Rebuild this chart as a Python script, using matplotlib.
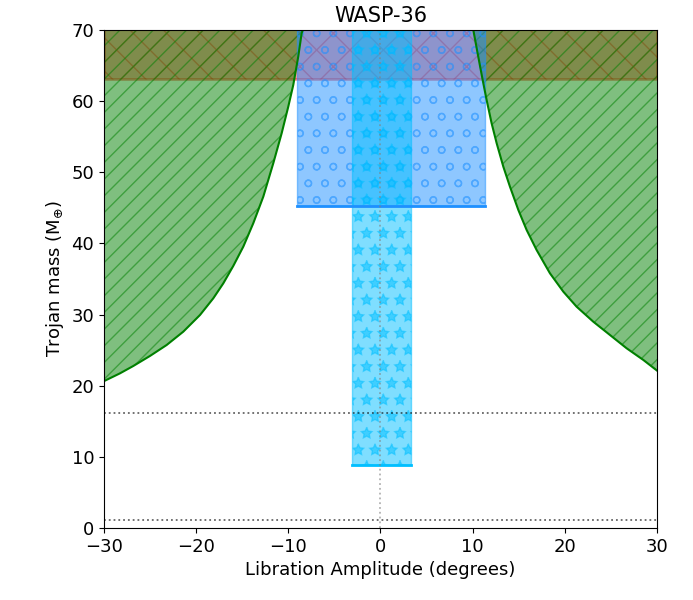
import numpy as np
import matplotlib
matplotlib.use("Agg")
import matplotlib.pyplot as plt

plt.rcParams['font.family'] = ['DejaVu Sans']
plt.rcParams['hatch.linewidth'] = 1.0

# stability limit (left and right branches)
left_x = [-29.89, -28.26, -26.82, -25.01, -23.20, -21.39, -19.58, -18.14, -17.05, -15.97,
          -14.88, -13.80, -12.71, -11.63, -10.72, -10.00, -9.46, -8.92, -8.55, -8.30]
left_y = [20.71, 21.74, 22.77, 24.18, 25.72, 27.60, 29.94, 32.28, 34.39, 36.83,
          39.55, 42.83, 46.58, 51.26, 55.48, 59.23, 62.27, 66.26, 69.54, 70.47]
right_x = [9.89, 10.14, 10.61, 11.09, 11.52, 12.06, 12.61, 13.33, 14.05, 14.96,
           15.86, 16.94, 18.39, 19.84, 21.28, 23.09, 24.90, 26.71, 28.52, 30.15]
right_y = [71.4, 69.54, 66.26, 62.97, 60.16, 56.89, 54.07, 50.79, 47.98, 44.70,
           41.89, 39.08, 35.80, 33.22, 31.11, 29.00, 27.13, 25.26, 23.62, 21.98]

# excluded band at the top
band_lo = 63.1
band_hi = 70.0

# allowed trojan boxes: (x_lo, x_hi, mass_lo)
wide_box = (-9.06, 11.34, 45.3)
narrow_box = (-3.09, 3.31, 8.8)

# detection limits
limit_lines = [16.1, 1.1]

fig, ax = plt.subplots(figsize=(6.93, 6.0), dpi=100)
fig.subplots_adjust(left=0.150, right=0.948, bottom=0.12, top=0.95)

# band goes underneath, the green and blue show through on top of it
ax.fill_between([-30, 30], band_lo, band_hi + 5, facecolor='red', alpha=0.4,
                hatch='x', edgecolor='red', linewidth=2)

ax.fill_between(left_x, left_y, 75, facecolor='green', alpha=0.5,
                hatch='//', edgecolor='green', linewidth=0)
ax.fill_between(right_x, right_y, 75, facecolor='green', alpha=0.5,
                hatch='//', edgecolor='green', linewidth=0)
ax.plot(left_x, left_y, color='green', lw=1.5)
ax.plot(right_x, right_y, color='green', lw=1.5)

ax.fill_between([wide_box[0], wide_box[1]], wide_box[2], 75, facecolor='dodgerblue',
                alpha=0.5, hatch='o', edgecolor='dodgerblue', linewidth=1)
ax.plot([wide_box[0], wide_box[1]], [wide_box[2], wide_box[2]], color='dodgerblue', lw=2)

ax.fill_between([narrow_box[0], narrow_box[1]], narrow_box[2], 75, facecolor='deepskyblue',
                alpha=0.5, hatch='*', edgecolor='deepskyblue', linewidth=1)
ax.plot([narrow_box[0], narrow_box[1]], [narrow_box[2], narrow_box[2]], color='deepskyblue', lw=2)

for m in limit_lines:
    ax.axhline(m, color='k', ls=':', alpha=0.6, lw=1.3)
ax.axvline(0, color='gray', ls=':', alpha=0.6, lw=1.3)

ax.set_xlim(-30, 30)
ax.set_ylim(0, 70)
ax.set_xticks([-30, -20, -10, 0, 10, 20, 30])
ax.set_yticks([0, 10, 20, 30, 40, 50, 60, 70])
ax.tick_params(labelsize=13, direction='out', top=False, right=False)
ax.set_xticklabels(['\u221230', '\u221220', '\u221210', '0', '10', '20', '30'])
ax.set_xlabel('Libration Amplitude (degrees)', fontsize=13)
ax.set_ylabel(r'Trojan mass (M$_{\oplus}$)', fontsize=13)
ax.set_title('WASP-36', fontsize=15)

fig.savefig('out.png', dpi=100)
